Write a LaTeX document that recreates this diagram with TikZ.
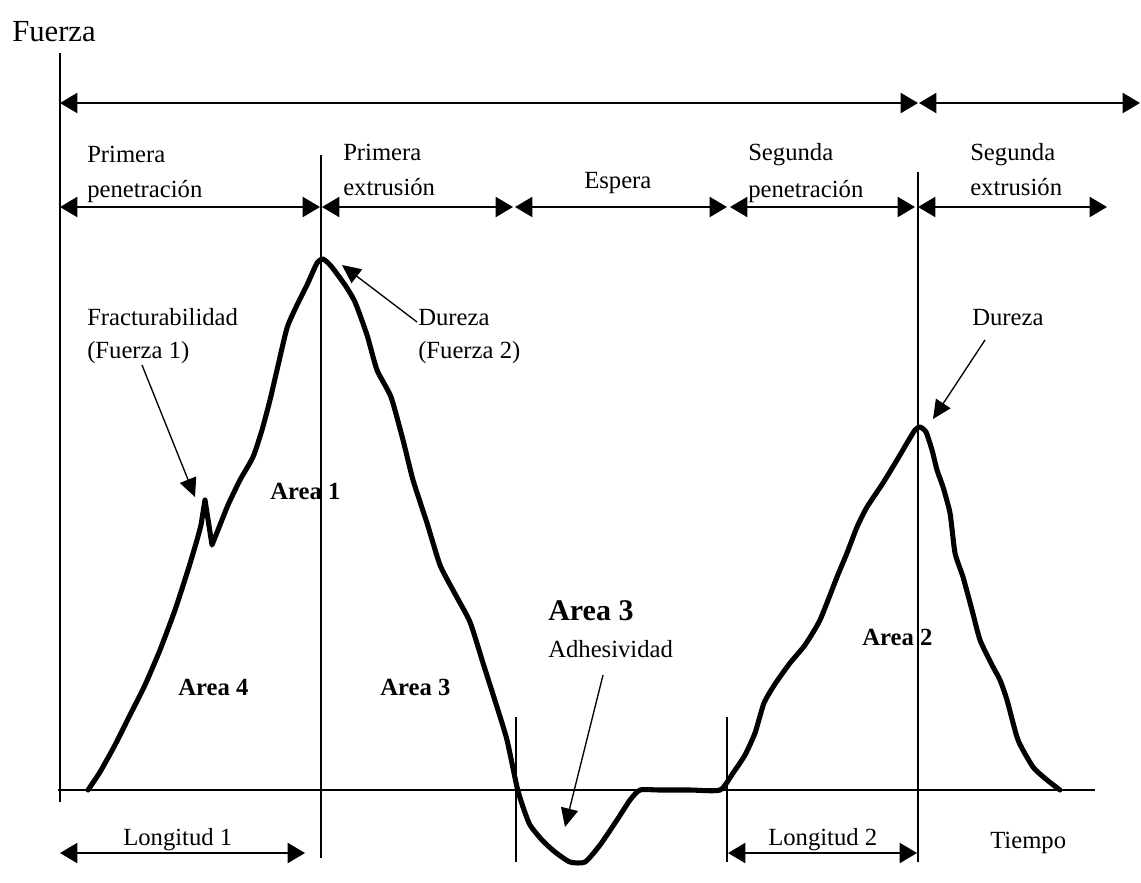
\documentclass[tikz,border=0pt]{standalone}
\usepackage{fontspec}
\setmainfont{Liberation Serif}
\usetikzlibrary{arrows.meta}
\begin{document}
\begin{tikzpicture}[x=0.75pt,y=-0.75pt,
  dimarrow/.style={line width=1.6pt,{Triangle[length=13pt,width=15pt]}-{Triangle[length=13pt,width=15pt]}},
  guide/.style={line width=1.1pt},
  callout/.style={line width=1pt,-{Triangle[length=14pt,width=13pt]}},
  curve/.style={line width=3.8pt,line join=round,line cap=round},
  lbl/.style={anchor=base west,inner sep=0pt,font=\fontsize{18.5}{22}\selectfont},
  area/.style={anchor=base west,inner sep=0pt,font=\fontsize{18.5}{22}\selectfont\bfseries}]
\useasboundingbox (0,0) rectangle (1141,882);
% axes
\coordinate (ytop) at (60,53);
\coordinate (ybot) at (60,802);
\coordinate (xl) at (58,790);
\coordinate (xr) at (1095,790);
\draw[line width=1.4pt] (ytop) -- (ybot);
\draw[line width=2.2pt] (xl) -- (xr);
% vertical guide lines
\coordinate (v1t) at (321,155); \coordinate (v1b) at (321,858);
\coordinate (v2t) at (918,172); \coordinate (v2b) at (918,862);
\coordinate (v3t) at (516,717); \coordinate (v3b) at (516,862);
\coordinate (v4t) at (727,717); \coordinate (v4b) at (727,862);
\draw[guide] (v1t) -- (v1b);
\draw[guide] (v2t) -- (v2b);
\draw[guide] (v3t) -- (v3b);
\draw[guide] (v4t) -- (v4b);
% top arrows
\coordinate (t0) at (60,103); \coordinate (t1) at (918,103); \coordinate (t1b) at (919,103); \coordinate (t2) at (1140,103);
\draw[dimarrow] (t0) -- (t1);
\draw[dimarrow] (t1b) -- (t2);
% phase arrows
\coordinate (p0) at (60,207); \coordinate (p1) at (320,207); \coordinate (p1b) at (322,207);
\coordinate (p2) at (513,207); \coordinate (p2b) at (515,207); \coordinate (p3) at (727,207);
\coordinate (p3b) at (730,207); \coordinate (p4) at (915,207); \coordinate (p4b) at (918,207);
\coordinate (p5) at (1107,207);
\draw[dimarrow] (p0) -- (p1);
\draw[dimarrow] (p1b) -- (p2);
\draw[dimarrow] (p2b) -- (p3);
\draw[dimarrow] (p3b) -- (p4);
\draw[dimarrow] (p4b) -- (p5);
% bottom arrows
\coordinate (l1a) at (60,853); \coordinate (l1b) at (305,853);
\coordinate (l2a) at (728,853); \coordinate (l2b) at (917,853);
\draw[dimarrow] (l1a) -- (l1b);
\draw[dimarrow] (l2a) -- (l2b);
% curve
\draw[curve] plot[smooth,tension=0.35] coordinates {(88,790) (100,772) (115,745) (130,715) (145,685) (160,650) (175,610) (188,570) (197,540) (201,525)}
 -- (205,500) -- plot[smooth,tension=0.35] coordinates {(212,545) (218,530) (228,505) (240,480) (253,457) (262,430) (270,400) (277,370) (287,328)
 (297,305) (307,285) (317,263) (323,259) (331,266) (345,285) (355,302) (367,335) (377,370) (391,397)
 (403,440) (413,480) (427,523) (440,565) (454,592) (470,622) (483,663) (497,707) (507,740) (517,787)
 (523,807) (530,825) (542,840) (555,852) (570,862) (585,862) (600,845) (617,820) (630,800) (640,790)
 (660,790) (690,790) (720,790) (733,773) (745,755) (755,733) (764,703) (775,684) (790,663) (805,645) (820,620)
 (837,577) (847,553) (857,527) (867,507) (883,483) (897,460) (907,443) (915,430) (920,427) (926,432)
 (932,450) (937,470) (943,487) (950,513) (955,553) (963,577) (972,610) (980,640) (992,665) (1000,680)
 (1007,700) (1018,740) (1033,767) (1047,780) (1060,790)};
% texts
\node[anchor=base west,inner sep=0pt,font=\fontsize{23}{27}\selectfont] (fuerza) at (12,41) {Fuerza};
\node[lbl] (pp1) at (87,162) {Primera};
\node[lbl] (pp2) at (87,197) {penetración};
\node[lbl] (pe1) at (343,160) {Primera};
\node[lbl] (pe2) at (343,195) {extrusión};
\node[lbl] (esp) at (584,188) {Espera};
\node[lbl] (sp1) at (748,160) {Segunda};
\node[lbl] (sp2) at (748,197) {penetración};
\node[lbl] (se1) at (970,160) {Segunda};
\node[lbl] (se2) at (970,195) {extrusión};
\node[lbl] (fr1) at (87,325) {Fracturabilidad};
\node[lbl] (fr2) at (87,358) {(Fuerza 1)};
\node[lbl] (du1) at (418,325) {Dureza};
\node[lbl] (du2) at (418,358) {(Fuerza 2)};
\node[lbl] (du3) at (972,325) {Dureza};
\node[area] (a1) at (270,499) {Area 1};
\node[area] (a4) at (178,695) {Area 4};
\node[area] (a3) at (380,695) {Area 3};
\node[anchor=base west,inner sep=0pt,font=\fontsize{22.5}{27}\selectfont\bfseries] (a3b) at (548,620) {Area 3};
\node[lbl] (adh) at (548,657) {Adhesividad};
\node[area] (a2) at (862,645) {Area 2};
\node[lbl] (lon1) at (123,845) {Longitud 1};
\node[lbl] (lon2) at (768,845) {Longitud 2};
\node[lbl] (tie) at (990,848) {Tiempo};
% callouts
\coordinate (c1s) at (142,365); \coordinate (c1e) at (195,497);
\coordinate (c2s) at (417,322); \coordinate (c2e) at (342,265);
\coordinate (c3s) at (985,340); \coordinate (c3e) at (933,419);
\coordinate (c4s) at (603,675); \coordinate (c4e) at (565,827);
\draw[callout] (c1s) -- (c1e);
\draw[callout] (c2s) -- (c2e);
\draw[callout] (c3s) -- (c3e);
\draw[callout] (c4s) -- (c4e);
\end{tikzpicture}
\end{document}
